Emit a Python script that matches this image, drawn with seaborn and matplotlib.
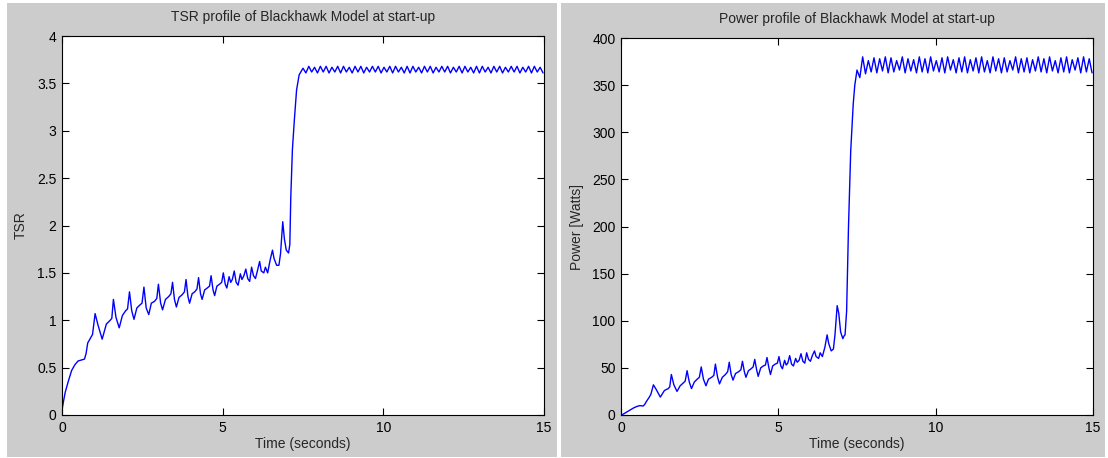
import numpy as np
import pandas as pd
import seaborn as sns
import matplotlib
matplotlib.use("Agg")
import matplotlib.pyplot as plt
from matplotlib.patches import Rectangle

# ---- data (time in seconds) ----
t_start = [0.00, 0.05, 0.10, 0.20, 0.30, 0.40, 0.50, 0.60, 0.70, 0.75, 0.80, 0.90, 0.95]
tsr_start = [0.05, 0.15, 0.24, 0.36, 0.47, 0.53, 0.57, 0.58, 0.59, 0.65, 0.76, 0.82, 0.85]
pow_start = [0, 0.5, 1.5, 3.5, 5.5, 7.5, 9, 10, 9.5, 11, 14, 19, 22]

t_ramp = [1.03, 1.12, 1.25, 1.38, 1.50, 1.55,
          1.60, 1.68, 1.78, 1.88, 1.98, 2.04,
          2.10, 2.17, 2.24, 2.33, 2.42, 2.49,
          2.55, 2.62, 2.70, 2.78, 2.88, 2.95,
          3.00, 3.07, 3.13, 3.22, 3.32, 3.39,
          3.44, 3.50, 3.56, 3.64, 3.74, 3.81,
          3.86, 3.92, 3.97, 4.05, 4.13, 4.20,
          4.25, 4.31, 4.36, 4.44, 4.52, 4.59,
          4.64, 4.70, 4.75, 4.82, 4.90, 4.97,
          5.02, 5.08, 5.13, 5.20, 5.25, 5.30,
          5.36, 5.42, 5.48, 5.55, 5.60, 5.66,
          5.72, 5.78, 5.84, 5.90, 5.96, 6.02,
          6.08, 6.15, 6.20, 6.28, 6.33, 6.40,
          6.48, 6.55, 6.60, 6.68, 6.75, 6.80,
          6.87, 6.92, 6.98, 7.05, 7.09, 7.12,
          7.17, 7.23, 7.30, 7.38, 7.43]
tsr_ramp = [1.07, 0.95, 0.80, 0.96, 1.00, 1.02,
            1.22, 1.03, 0.92, 1.05, 1.10, 1.12,
            1.30, 1.10, 1.01, 1.13, 1.16, 1.18,
            1.35, 1.13, 1.06, 1.18, 1.20, 1.23,
            1.38, 1.18, 1.11, 1.22, 1.25, 1.28,
            1.40, 1.22, 1.14, 1.24, 1.27, 1.30,
            1.43, 1.25, 1.18, 1.28, 1.30, 1.33,
            1.45, 1.28, 1.22, 1.32, 1.34, 1.36,
            1.47, 1.32, 1.26, 1.36, 1.38, 1.40,
            1.50, 1.38, 1.34, 1.46, 1.40, 1.43,
            1.52, 1.40, 1.37, 1.49, 1.43, 1.47,
            1.54, 1.44, 1.41, 1.56, 1.47, 1.44,
            1.52, 1.62, 1.52, 1.50, 1.56, 1.50,
            1.64, 1.74, 1.65, 1.58, 1.58, 1.70,
            2.04, 1.86, 1.74, 1.71, 1.80, 2.30,
            2.80, 3.11, 3.43, 3.59, 3.62]
pow_ramp = [32, 27, 19, 26, 28, 30,
            43, 32, 25, 31, 34, 36,
            47, 35, 28, 35, 38, 40,
            51, 38, 31, 38, 40, 42,
            54, 40, 33, 40, 43, 46,
            56, 43, 37, 44, 46, 48,
            57, 46, 40, 47, 49, 51,
            59, 48, 41, 50, 52, 53,
            61, 50, 43, 52, 54, 55,
            62, 52, 49, 58, 53, 55,
            63, 54, 52, 60, 56, 58,
            65, 57, 55, 66, 59, 57,
            63, 68, 62, 60, 66, 62,
            72, 85, 76, 68, 70, 85,
            116, 108, 88, 81, 84, 85,
            110, 200, 280, 330, 350]

t_steady = [7.50, 7.59, 7.68, 7.77, 7.86, 7.95, 8.04, 8.13, 8.22, 8.31, 8.40, 8.49,
            8.58, 8.67, 8.76, 8.85, 8.94, 9.03, 9.12, 9.21, 9.30, 9.39, 9.48, 9.57,
            9.66, 9.75, 9.84, 9.93, 10.02, 10.11, 10.20, 10.29, 10.38, 10.47, 10.56, 10.65,
            10.74, 10.83, 10.92, 11.01, 11.10, 11.19, 11.28, 11.37, 11.46, 11.55, 11.64, 11.73,
            11.82, 11.91, 12.00, 12.09, 12.18, 12.27, 12.36, 12.45, 12.54, 12.63, 12.72, 12.81,
            12.90, 12.99, 13.08, 13.17, 13.26, 13.35, 13.44, 13.53, 13.62, 13.71, 13.80, 13.89,
            13.98, 14.07, 14.16, 14.25, 14.34, 14.43, 14.52, 14.61, 14.70, 14.79, 14.88, 14.97]
tsr_steady = [3.66, 3.61, 3.68, 3.62, 3.67, 3.61, 3.68, 3.62, 3.68, 3.61, 3.67, 3.62,
              3.68, 3.61, 3.68, 3.62, 3.67, 3.61, 3.68, 3.62, 3.68, 3.61, 3.67, 3.62,
              3.68, 3.62, 3.68, 3.61, 3.67, 3.62, 3.68, 3.61, 3.68, 3.62, 3.67, 3.61,
              3.68, 3.61, 3.68, 3.62, 3.67, 3.61, 3.68, 3.62, 3.68, 3.61, 3.67, 3.62,
              3.68, 3.62, 3.68, 3.61, 3.67, 3.62, 3.68, 3.61, 3.68, 3.62, 3.67, 3.61,
              3.68, 3.61, 3.68, 3.62, 3.67, 3.61, 3.68, 3.62, 3.68, 3.61, 3.67, 3.62,
              3.68, 3.62, 3.68, 3.61, 3.67, 3.62, 3.68, 3.61, 3.68, 3.62, 3.67, 3.61]
pow_steady = [366, 358, 380, 362, 376, 364, 379, 363, 378, 365, 380, 363,
              379, 364, 376, 366, 380, 363, 378, 365, 377, 363, 380, 364,
              378, 363, 380, 365, 376, 364, 379, 363, 380, 366, 377, 363,
              379, 364, 380, 363, 377, 365, 379, 363, 380, 364, 376, 363,
              380, 365, 378, 363, 379, 364, 376, 366, 380, 363, 378, 364,
              379, 363, 377, 365, 380, 364, 378, 363, 380, 365, 376, 363,
              379, 364, 380, 363, 377, 366, 379, 363, 380, 364, 378, 363]

x_ticks = [0, 5, 10, 15]
tsr_ticks = [0, 0.5, 1, 1.5, 2, 2.5, 3, 3.5, 4]
tsr_labels = ["0", "0.5", "1", "1.5", "2", "2.5", "3", "3.5", "4"]
pow_ticks = [0, 50, 100, 150, 200, 250, 300, 350, 400]

df = pd.DataFrame({
    "time": t_start + t_ramp + t_steady,
    "tsr": tsr_start + tsr_ramp + tsr_steady,
    "power": pow_start + pow_ramp + pow_steady,
})

sns.set_style("ticks")
plt.rcParams["font.family"] = ["Liberation Sans", "DejaVu Sans"]
plt.rcParams["font.size"] = 10

fig = plt.figure(figsize=(11.08, 4.58), dpi=100, facecolor="white")
# grey MATLAB-style figure panels
fig.add_artist(Rectangle((7 / 1108, 1 / 458), 550 / 1108, 454 / 458,
                         transform=fig.transFigure, facecolor="#cccccc",
                         edgecolor="none", zorder=-5))
fig.add_artist(Rectangle((561 / 1108, 1 / 458), 544 / 1108, 454 / 458,
                         transform=fig.transFigure, facecolor="#cccccc",
                         edgecolor="none", zorder=-5))

ax1 = fig.add_axes([62 / 1108, 43 / 458, 482 / 1108, 379 / 458])
ax2 = fig.add_axes([621 / 1108, 43 / 458, 472 / 1108, 377 / 458])

sns.lineplot(data=df, x="time", y="tsr", ax=ax1, color="#0000ff", lw=1, estimator=None)
sns.lineplot(data=df, x="time", y="power", ax=ax2, color="#0000ff", lw=1, estimator=None)

for ax in (ax1, ax2):
    ax.set_facecolor("white")
    ax.set_xlim(0, 15)
    ax.set_xticks(x_ticks)
    ax.set_xticklabels([str(v) for v in x_ticks])
    ax.tick_params(direction="in", top=True, right=True, length=5, width=0.8,
                   labelsize=10, colors="black", pad=4)
    for s in ax.spines.values():
        s.set_color("black")
        s.set_linewidth(0.8)
    ax.set_xlabel("Time (seconds)", fontsize=10, labelpad=2)

ax1.set_ylim(0, 4)
ax1.set_yticks(tsr_ticks)
ax1.set_yticklabels(tsr_labels)
ax1.set_ylabel("TSR", fontsize=10, labelpad=7)
ax1.set_title("TSR profile of Blackhawk Model at start-up", fontsize=10, pad=11)

ax2.set_ylim(0, 400)
ax2.set_yticks(pow_ticks)
ax2.set_yticklabels([str(v) for v in pow_ticks])
ax2.set_ylabel("Power [Watts]", fontsize=10, labelpad=6)
ax2.set_title("Power profile of Blackhawk Model at start-up", fontsize=10, pad=11)

fig.savefig("out.png", dpi=100, facecolor="white")
